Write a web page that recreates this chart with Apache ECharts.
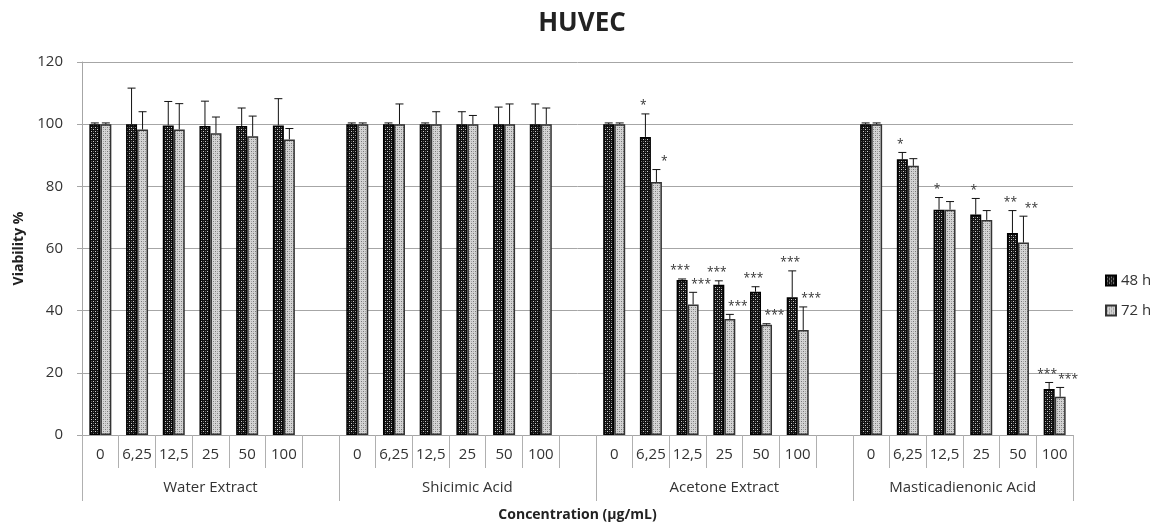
<!DOCTYPE html>
<html>
<head>
<meta charset="utf-8">
<script src="https://cdn.jsdelivr.net/npm/echarts@6/dist/echarts.min.js"></script>
<style>
  html, body { margin: 0; padding: 0; background: #fff; }
  #container { width: 1154px; height: 527px; }
</style>
</head>
<body>
<div id="container"></div>
<script>
var concentrations = ['0', '6,25', '12,5', '25', '50', '100'];
var groups = ['Water Extract', 'Shicimic Acid', 'Acetone Extract', 'Masticadienonic Acid'];

// mean viability, one entry per group x concentration
var mean48 = [100, 100, 99.6, 99.4, 99.4, 99.6,
              100, 100, 100, 100, 100, 100,
              100, 95.9, 49.9, 48.3, 46.1, 44.3,
              100, 88.7, 72.5, 70.9, 65.0, 14.8];
var err48  = [0.4, 11.6, 7.7, 8.0, 5.8, 8.6,
              0.4, 0.4, 0.4, 4.0, 5.5, 6.5,
              0.4, 7.4, 0.3, 1.3, 1.6, 8.5,
              0.4, 2.2, 3.9, 5.2, 7.2, 2.1];
var sig48  = ['', '', '', '', '', '',
              '', '', '', '', '', '',
              '', '*', '***', '***', '***', '***',
              '', '*', '*', '*', '**', '***'];

var mean72 = [100, 98.3, 98.3, 97.1, 96.1, 95.1,
              100, 100, 100, 100, 100, 100,
              100, 81.4, 42.0, 37.3, 35.5, 33.8,
              100, 86.6, 72.5, 69.2, 61.9, 12.3];
var err72  = [0.4, 5.7, 8.3, 5.2, 6.5, 3.5,
              0.4, 6.5, 4.0, 2.8, 6.5, 5.2,
              0.4, 4.0, 3.9, 1.5, 0.3, 7.4,
              0.4, 2.3, 2.6, 3.0, 8.5, 3.0];
var sig72  = ['', '', '', '', '', '',
              '', '', '', '', '', '',
              '', '*', '***', '***', '***', '***',
              '', '', '', '', '**', '***'];

// slots on the category axis: each group + one empty spacer (not after the last one)
var slotLabels = [], slotOf = [], groupStart = [];
groups.forEach(function (g, gi) {
    groupStart.push(slotLabels.length);
    concentrations.forEach(function (c) {
        slotOf.push(slotLabels.length);
        slotLabels.push(c);
    });
    if (gi < groups.length - 1) slotLabels.push('');
});
var groupSlots = slotLabels.map(function () { return ''; });
groups.forEach(function (g, gi) {
    // last group has no spacer, so its centre sits half a slot to the left
    groupSlots[groupStart[gi] + 3] = (gi === groups.length - 1) ? '{last|' + g + '}' : g;
});

function toSlots(arr) {
    var out = slotLabels.map(function () { return '-'; });
    arr.forEach(function (v, i) { out[slotOf[i]] = v; });
    return out;
}
function errData(mean, err) {
    return mean.map(function (v, i) { return [slotOf[i], v, err[i], i]; });
}

function makePattern(bg, fg, mid) {
    var c = document.createElement('canvas');
    c.width = 4; c.height = 4;
    var ctx = c.getContext('2d');
    ctx.fillStyle = bg; ctx.fillRect(0, 0, 4, 4);
    ctx.fillStyle = fg;
    ctx.fillRect(1, 1, 1, 1); ctx.fillRect(3, 3, 1, 1);
    ctx.fillStyle = mid;
    ctx.fillRect(1, 3, 1, 1); ctx.fillRect(3, 1, 1, 1);
    return c;
}
var pat48 = makePattern('#111111', '#d0d0d0', '#5a5a5a');
var pat72 = makePattern('#d4d4d4', '#7a7a7a', '#a8a8a8');

function errorBars(offset, sig, dx) {
    return function (params, api) {
        var x = api.coord([api.value(0), 0])[0] + offset;
        var yBar = api.coord([0, api.value(1)])[1];
        var yTop = api.coord([0, api.value(1) + api.value(2)])[1];
        var s = sig[api.value(3)];
        return {
            type: 'group',
            children: [
                { type: 'line', shape: { x1: x, y1: yBar, x2: x, y2: yTop }, style: { stroke: '#111', lineWidth: 1 } },
                { type: 'line', shape: { x1: x - 4, y1: yTop, x2: x + 4, y2: yTop }, style: { stroke: '#111', lineWidth: 1 } },
                { type: 'text', x: x + dx, y: yTop - 8,
                  style: { text: s, fill: '#333', font: '12px "Open Sans"', align: 'center', verticalAlign: 'middle' } }
            ]
        };
    };
}

var myChart = echarts.init(document.getElementById('container'));
var option = {
    animation: false,
    title: {
        text: 'HUVEC',
        left: 577, textAlign: 'center', top: 6,
        textStyle: { fontFamily: 'Open Sans', fontSize: 26, fontWeight: 'bold', color: '#222' }
    },
    legend: {
        data: ['48 h', '72 h'],
        orient: 'vertical',
        left: 1100, top: 268,
        itemWidth: 10, itemHeight: 10, itemGap: 15,
        icon: 'rect',
        textStyle: { fontFamily: 'Open Sans', fontSize: 15, color: '#333' }
    },
    grid: { left: 82, right: 81, top: 62, bottom: 91 },
    xAxis: [
        {
            type: 'category',
            data: slotLabels,
            position: 'bottom',
            axisLine: { lineStyle: { color: '#a6a6a6' } },
            axisTick: { show: true, interval: 0, length: 33, lineStyle: { color: '#b0b0b0' } },
            axisLabel: { interval: 0, margin: 12, fontFamily: 'Open Sans', fontSize: 15, color: '#333' },
            splitLine: { show: false }
        },
        {
            type: 'category',
            data: groupSlots,
            position: 'bottom',
            axisLine: { show: false },
            axisTick: {
                show: true, length: 66, lineStyle: { color: '#b0b0b0' },
                interval: function (index) { return groupStart.indexOf(index) >= 0; }
            },
            axisLabel: {
                interval: 0, margin: 45, fontFamily: 'Open Sans', fontSize: 15, color: '#333',
                rich: { last: { fontFamily: 'Open Sans', fontSize: 15, color: '#333', padding: [0, 37, 0, 0] } }
            },
            name: 'Concentration (µg/mL)',
            nameLocation: 'middle',
            nameGap: 73,
            nameTextStyle: { fontFamily: 'Open Sans', fontSize: 14, fontWeight: 'bold', color: '#222' }
        }
    ],
    yAxis: {
        type: 'value',
        min: 0, max: 120, interval: 20,
        name: 'Viability %',
        nameLocation: 'middle',
        nameGap: 56,
        nameTextStyle: { fontFamily: 'Open Sans', fontSize: 14, fontWeight: 'bold', color: '#222' },
        axisLine: { show: true, lineStyle: { color: '#a6a6a6' } },
        axisTick: { show: true, length: 5, lineStyle: { color: '#a6a6a6' } },
        axisLabel: { margin: 19, fontFamily: 'Open Sans', fontSize: 15, color: '#333' },
        splitLine: { lineStyle: { color: '#a6a6a6' } }
    },
    series: [
        {
            name: '48 h', type: 'bar', barWidth: 11, barGap: '0%',
            data: toSlots(mean48),
            itemStyle: { color: { image: pat48, repeat: 'repeat' }, borderColor: '#000', borderWidth: 1.5 }
        },
        {
            name: '72 h', type: 'bar', barWidth: 11, barGap: '0%',
            data: toSlots(mean72),
            itemStyle: { color: { image: pat72, repeat: 'repeat' }, borderColor: '#333', borderWidth: 1.5 }
        },
        {
            name: 'err48', type: 'custom', z: 5,
            renderItem: errorBars(-5.5, sig48, -2),
            data: errData(mean48, err48)
        },
        {
            name: 'err72', type: 'custom', z: 5,
            renderItem: errorBars(5.5, sig72, 8),
            data: errData(mean72, err72)
        }
    ]
};
myChart.setOption(option);
</script>
</body>
</html>
